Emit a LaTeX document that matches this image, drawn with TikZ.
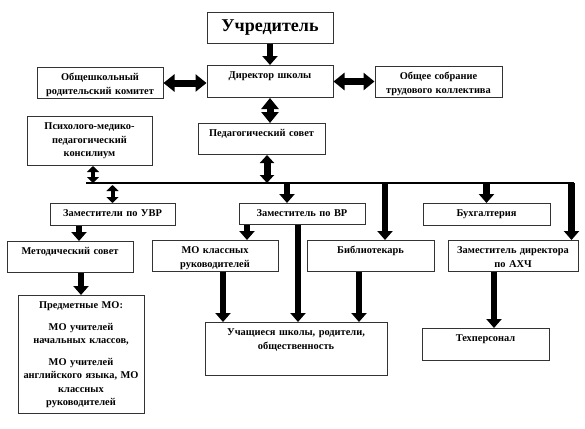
\documentclass[tikz,border=0pt]{standalone}
\usepackage{fontspec}
\setmainfont{Liberation Serif}
\usepackage{tikz}
\usetikzlibrary{arrows.meta, positioning, calc}

\tikzset{
  box/.style={draw=black!80, line width=1pt, fill=white, align=center, anchor=north,
    inner xsep=2pt, inner ysep=0pt, text height=13pt, font=\bfseries\fontsize{10.4}{13.5}\selectfont},
  arr/.style={-{Triangle[width=15pt,length=9pt]}, line width=6.5pt},
  darr/.style={{Triangle[width=17pt,length=11pt]}-{Triangle[width=17pt,length=11pt]}, line width=7pt},
  mdarr/.style={{Triangle[width=14pt,length=8pt]}-{Triangle[width=14pt,length=8pt]}, line width=7pt},
  sdarr/.style={{Triangle[width=12pt,length=6pt]}-{Triangle[width=12pt,length=6pt]}, line width=4pt},
  bus/.style={line width=2.5pt}
}

\begin{document}
\begin{tikzpicture}[x=1pt,y=-1pt]
\useasboundingbox (0,0) rectangle (585,428);

% Top of the school
\node[box, text width=122pt, text height=19pt, text depth=12pt, font=\bfseries\fontsize{18}{20}\selectfont] (ucr) at (270,12) {Учредитель};
\node[box, text width=122pt, text depth=19pt] (dir) at (270,65) {Директор школы};
\node[box, text width=122pt, text depth=18pt] (parent) at (100,67) {Общешкольный\\родительский комитет};
\node[box, text width=123pt, text depth=18pt] (staff) at (438.5,66) {Общее собрание\\трудового коллектива};
\node[box, text width=121pt, text depth=36pt] (pmpk) at (89.5,116) {Психолого-медико-\\педагогический\\консилиум};
\node[box, text width=123pt, text depth=18pt] (ped) at (261.5,123) {Педагогический совет};

% Deputies
\node[box, text width=121pt, text depth=9pt] (uvr) at (112.5,203) {Заместители по УВР};
\node[box, text width=122pt, text depth=8pt] (vr) at (302,203) {Заместитель по ВР};
\node[box, text width=123pt, text depth=9pt] (buh) at (486.5,203) {Бухгалтерия};

% Second row
\node[box, text width=122pt, text depth=18pt] (met) at (70,241) {Методический совет};
\node[box, text width=122pt, text depth=18pt] (mokl) at (215,240) {МО классных\\руководителей};
\node[box, text width=123pt, text depth=18pt] (bib) at (370.5,240) {Библиотекарь};
\node[box, text width=126pt, text depth=18pt] (ahch) at (513,240) {Заместитель директора\\по АХЧ};

% Bottom row
\node[box, text width=122pt, text depth=105pt] (pred) at (81,295) {Предметные МО:\\[8pt]МО учителей\\начальных классов,\\[8pt]МО учителей\\английского языка, МО\\классных\\руководителей};
\node[box, text width=178pt, text depth=40pt] (uch) at (296,322) {Учащиеся школы, родители,\\общественность};
\node[box, text width=123pt, text depth=19pt] (tech) at (485.5,328) {Техперсонал};

% Arrows at the top
\draw[arr] (ucr.south) -- (dir.north);
\draw[darr] (parent.east) -- (parent.east -| dir.west);
\draw[darr] (dir.east) -- (dir.east -| staff.west);
\draw[darr] (dir.south) -- (ped.north -| dir.south);

% Common line
\coordinate (busL) at (86,183);
\coordinate (busR) at (574,183);
\draw[bus] (busL) -- (busR);
\draw[mdarr] ([xshift=5.5pt]ped.south) -- ([xshift=5.5pt]ped.south |- busL);
\draw[sdarr] ([xshift=3.5pt]pmpk.south) -- ([xshift=3.5pt]pmpk.south |- busL);
\draw[sdarr] ([yshift=-2pt]uvr.north |- busL) -- (uvr.north);
\draw[arr] ([xshift=-15pt]vr.north |- busL) -- ([xshift=-15pt]vr.north);
\draw[arr] ([xshift=14.5pt]bib.north |- busL) -- ([xshift=14.5pt]bib.north);
\draw[arr] (buh.north |- busL) -- (buh.north);
\draw[arr] ([xshift=-7pt]ahch.north east |- busL) -- ([xshift=-7pt]ahch.north east);

% Arrows below
\draw[arr] ([xshift=9pt]met.north |- uvr.south) -- ([xshift=9pt]met.north);
\draw[arr] ([xshift=32pt]mokl.north |- vr.south) -- ([xshift=32pt]mokl.north);
\draw[arr] ([xshift=-4pt]vr.south) -- ([xshift=-4pt]vr.south |- uch.north);
\draw[arr] (met.south -| pred.north) -- (pred.north);
\draw[arr] ([xshift=8pt]mokl.south) -- ([xshift=8pt]mokl.south |- uch.north);
\draw[arr] ([xshift=-11.5pt]bib.south) -- ([xshift=-11.5pt]bib.south |- uch.north);
\draw[arr] ([xshift=8.5pt]tech.north |- ahch.south) -- ([xshift=8.5pt]tech.north);
\end{tikzpicture}
\end{document}
